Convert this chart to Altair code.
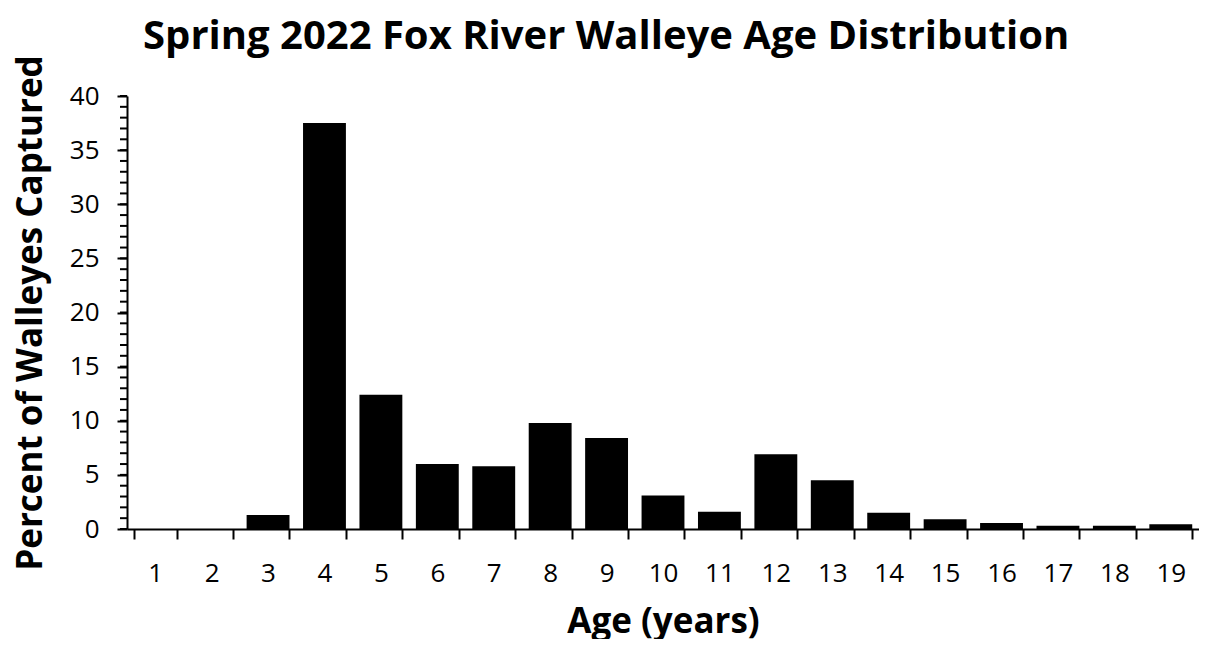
import altair as alt
import pandas as pd

ages = [str(a) for a in range(1, 20)]
percent = [0, 0, 1.3, 37.5, 12.4, 6.0, 5.8, 9.8, 8.4, 3.1, 1.6, 6.9, 4.5, 1.5, 0.9, 0.55, 0.3, 0.3, 0.45]
major_ticks = [0, 5, 10, 15, 20, 25, 30, 35, 40]
minor_ticks = list(range(0, 41))

df = pd.DataFrame({"age": ages, "percent": percent})
FONT = "Open Sans"

x_enc = alt.X("age:N", sort=ages, title="Age (years)",
              scale=alt.Scale(paddingInner=0.24, paddingOuter=0.12),
              axis=alt.Axis(labelAngle=0, labelFont=FONT, labelFontSize=26, labelColor="black",
                            labelPadding=21, tickBand="extent", tickSize=10, tickWidth=2,
                            tickColor="black", domainColor="black", domainWidth=2,
                            titleFont=FONT, titleFontSize=35, titleFontWeight="bold",
                            titleColor="black", titlePadding=18))

bars = alt.Chart(df).mark_bar(color="black").encode(
    x=x_enc,
    y=alt.Y("percent:Q", title="Percent of Walleyes Captured",
            scale=alt.Scale(domain=[0, 40], nice=False),
            axis=alt.Axis(values=major_ticks, grid=False,
                          labelFont=FONT, labelFontSize=26, labelColor="black", labelPadding=18,
                          tickSize=10, tickWidth=2, tickColor="black",
                          domainColor="black", domainWidth=2,
                          titleFont=FONT, titleFontSize=35, titleFontWeight="bold",
                          titleColor="black", titlePadding=21)),
)

minor = alt.Chart(pd.DataFrame({"v": minor_ticks})).mark_rule(color="black", strokeWidth=2).encode(
    y=alt.Y("v:Q", scale=alt.Scale(domain=[0, 40], nice=False)),
    x=alt.value(-7),
    x2=alt.value(0),
)

chart = alt.layer(bars, minor).properties(
    width=1072, height=433,
    title=alt.Title("Spring 2022 Fox River Walleye Age Distribution", font=FONT, fontSize=40,
                    fontWeight="bold", color="black", offset=-2, anchor="middle", frame="bounds"),
).configure(
    background="white", padding={"left": 5, "top": 8, "right": 0, "bottom": 0},
    view=alt.ViewConfig(stroke="transparent"))

chart.save("out.html", embed_options={"renderer": "svg", "actions": False})
